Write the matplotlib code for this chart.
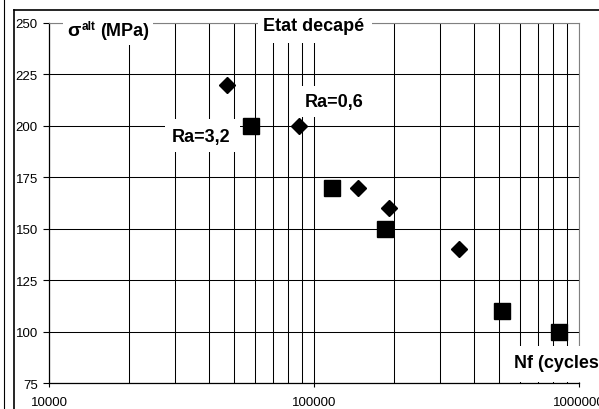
import numpy as np
import matplotlib as mpl
mpl.use('Agg')
import matplotlib.pyplot as plt
from matplotlib import ticker
from matplotlib.lines import Line2D
from matplotlib.patches import Rectangle

plt.rcParams['font.family'] = ['Liberation Sans', 'DejaVu Sans']

# Ra=3,2 -> squares
nf_ra32 = [58000, 117000, 186000, 514000, 843000]
sig_ra32 = [200, 170, 150, 110, 100]
# Ra=0,6 -> diamonds
nf_ra06 = [47000, 88000, 147000, 192000, 351000]
sig_ra06 = [220, 200, 170, 160, 140]

y_ticks = [75, 100, 125, 150, 175, 200, 225, 250]
x_ticks = [10000, 100000, 1000000]
x_labels = ['10000', '100000', '1000000']

W, H = 599, 410
fig = plt.figure(figsize=(W / 100, H / 100), dpi=100)
ax = fig.add_axes([49 / W, 1 - 384.3 / H, 530 / W, 360.3 / H])

ax.set_xscale('log')
ax.set_xlim(1e4, 1e6)
ax.set_ylim(75, 250)
ax.set_yticks(y_ticks)
ax.set_xticks(x_ticks)
ax.set_xticklabels(x_labels)
ax.xaxis.set_minor_locator(ticker.LogLocator(base=10, subs=np.arange(2, 10)))
ax.xaxis.set_minor_formatter(ticker.NullFormatter())
ax.tick_params(axis='x', which='minor', length=0)
ax.tick_params(axis='x', which='major', direction='out', length=3, pad=6.5, labelsize=9.5)
ax.tick_params(axis='y', direction='out', length=4, pad=4, labelsize=9.5)

ax.grid(True, which='both', axis='x', color='black', lw=0.75)
ax.grid(True, which='major', axis='y', color='black', lw=0.75)
ax.set_axisbelow(True)

for s in ['top', 'right']:
    ax.spines[s].set_color('#808080')
for s in ['left', 'bottom']:
    ax.spines[s].set_color('black')
    ax.spines[s].set_linewidth(0.9)

ax.plot(nf_ra32, sig_ra32, linestyle='none', marker='s', markersize=12,
        color='black', zorder=5, clip_on=False)
ax.plot(nf_ra06, sig_ra06, linestyle='none', marker='D', markersize=8.6,
        color='black', zorder=5, clip_on=False)

# white boxes + labels, placed in pixel positions (origin top-left)
tr = fig.dpi_scale_trans

def box(x0, y0, x1, y1):
    ax.add_patch(Rectangle((x0 / 100, (H - y1) / 100), (x1 - x0) / 100, (y1 - y0) / 100,
                           transform=tr, facecolor='white', edgecolor='none',
                           zorder=3, clip_on=False))

def label(px, py, s, size=13, ha='left'):
    ax.text(px / 100, (H - py) / 100, s, transform=tr, fontsize=size,
            fontweight='bold', ha=ha, va='center', zorder=4, clip_on=False)

box(63, 12, 153, 46)
label(67, 32, 'σ', size=14)
label(82, 27, 'alt', size=8.5)
label(100, 32, '(MPa)')

box(258, 12, 372, 44)
label(263, 27, 'Etat decapé')

box(165, 120, 240, 153)
label(172, 138, 'Ra=3,2')

box(298, 87, 372, 118)
label(305, 103, 'Ra=0,6')

box(508, 347, 610, 383)
label(514, 364, 'Nf (cycles')

# outer frame lines
fig.add_artist(Line2D([3.5 / 100, 3.5 / 100], [0, H / 100], transform=tr,
                      color='black', lw=0.8))
fig.add_artist(Line2D([14 / 100, 14 / 100], [0, (H - 11) / 100], transform=tr,
                      color='black', lw=1.2))
fig.add_artist(Line2D([14 / 100, W / 100], [(H - 11) / 100, (H - 11) / 100], transform=tr,
                      color='black', lw=1.2))

plt.savefig('out.png', dpi=100)
